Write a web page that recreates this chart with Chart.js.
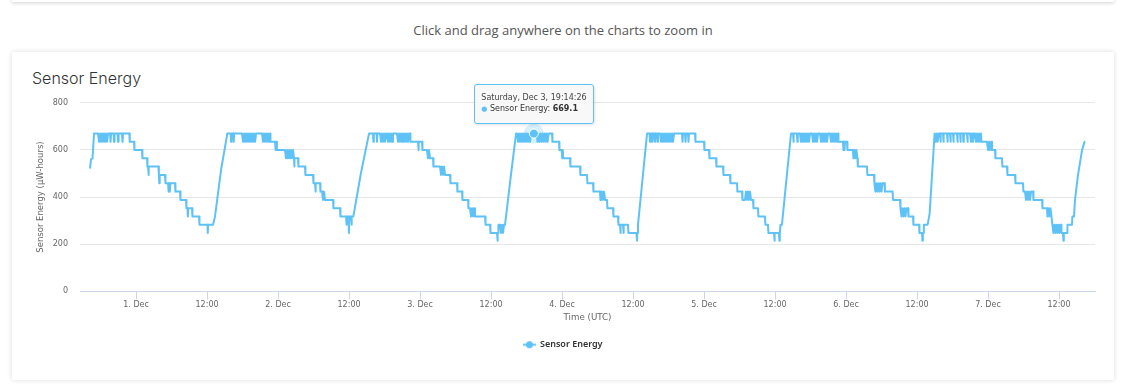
<!DOCTYPE html>
<html lang="en">
<head>
<meta charset="UTF-8" />
<title>Sensor Energy</title>
<script src="https://cdn.jsdelivr.net/npm/chart.js@4.4.1/dist/chart.umd.min.js"></script>
<style>
  html, body { margin: 0; padding: 0; background: #fff; }
  body { width: 1128px; height: 388px; position: relative; overflow: hidden; }
  .topbar { position: absolute; left: 12px; top: -40px; width: 1102px; height: 42px; background: #fff; box-shadow: 0 1px 4px rgba(0,0,0,0.18); }
  .hint { position: absolute; left: 12px; width: 1102px; top: 20px; text-align: center; font: 400 13px/20px "Open Sans", sans-serif; color: #555; }
  .card { position: absolute; left: 12px; top: 52px; width: 1102px; height: 328px; background: #fff; box-shadow: 0 0 5px rgba(0,0,0,0.14); }
  .card h2 { position: absolute; left: 20px; top: 16px; margin: 0; font: 300 16px/20px Inter, sans-serif; color: #333; }
  .card canvas { position: absolute; left: 0; top: 40px; }
  #tip { position: absolute; pointer-events: none; opacity: 0; white-space: nowrap;
         background: rgba(247,247,247,0.88); border: 1px solid #5ec2f7; border-radius: 3px;
         padding: 7px 6px 8px; font-family: "DejaVu Sans", sans-serif; color: #333;
         box-shadow: 1px 1px 3px rgba(0,0,0,0.12); }
  #tip .head { font-size: 8px; line-height: 11px; color: #444; }
  #tip .body { font-size: 8px; line-height: 12px; }
  #tip .dot { font-size: 7px; }
</style>
</head>
<body>
<div class="topbar"></div>
<div class="hint">Click and drag anywhere on the charts to zoom in</div>
<div class="card">
  <h2>Sensor Energy</h2>
  <canvas id="energyChart" width="1102" height="288"></canvas>
  <div id="tip"></div>
</div>

<script>
// readings as [hours after 30 Nov 2022 00:00 UTC, µW-hours], one array per charge cycle
const cycle1 = [
  [16.23,524],[16.39,560],[16.65,564],[16.90,669.1],
  [17.58,669.1],[17.75,634],[17.92,669.1],[18.09,634],[18.26,669.1],[18.42,634],[18.59,669.1],[18.76,634],[18.93,669.1],[19.10,634],[19.27,669.1],
  [19.61,669.1],[19.69,634],[19.78,669.1],
  [20.20,669.1],[20.28,634],[20.37,669.1],
  [20.87,669.1],[20.96,634],[21.05,669.1],
  [21.63,669.1],[21.72,634],[21.80,669.1],
  [22.87,669.1],[22.94,634],
  [23.66,634],[23.73,599],
  [25.01,599],[25.08,564],
  [25.86,564],[25.93,529],
  [26.03,529],[26.10,494],[26.17,529],
  [27.79,529],[27.86,494],[27.93,459],[28.00,494],
  [28.90,494],[28.97,459],
  [29.41,459],[29.51,423],[29.61,459],[29.71,423],[29.81,459],
  [30.59,459],[30.66,423],
  [31.44,423],[31.51,388],
  [32.45,388],[32.52,353],
  [32.69,353],[32.76,318],[32.83,353],
  [33.46,353],[33.53,318],
  [34.65,318],[34.72,283],
  [36.08,283],[36.13,248],[36.18,283],
  [37.01,283],[37.35,318],[38.40,520],[39.43,669.1]
];
const cycle2 = [
  [40.00,669.1],[40.07,634],[40.14,669.1],
  [40.44,669.1],[40.51,634],[40.58,669.1],
  [41.92,669.1],[42.09,634],[42.26,669.1],[42.43,634],[42.60,669.1],[42.76,634],[42.93,669.1],[43.10,634],[43.27,669.1],[43.44,634],[43.61,669.1],[43.78,634],[43.95,669.1],[44.12,634],[44.29,669.1],
  [45.30,669.1],[45.46,634],[45.63,669.1],[45.80,634],[45.97,669.1],[46.14,634],[46.31,669.1],[46.48,634],[46.65,669.1],[46.72,634],
  [47.49,634],[47.56,599],[47.63,634],[47.74,634],[47.81,599],
  [49.18,599],[49.35,564],[49.52,599],[49.69,564],[49.86,599],[50.03,564],[50.20,599],[50.37,564],[50.54,599],[50.70,564],[50.75,529],[50.80,564],
  [51.38,564],[51.45,529],
  [52.56,529],[52.63,494],
  [53.92,494],[53.99,459],
  [54.25,459],[54.32,423],[54.40,459],
  [55.10,459],[55.17,423],
  [55.44,423],[55.60,388],[55.77,423],[55.94,388],
  [57.30,388],[57.37,353],
  [58.48,353],[58.55,318],
  [59.49,318],[59.56,283],[59.63,318],
  [59.91,318],[59.98,248],[60.05,318],
  [60.34,318],[60.41,283],[60.48,318],
  [60.73,318],[62.00,500],[63.38,669.1]
];
const cycle3 = [
  [64.05,669.1],[64.12,634],[64.19,669.1],
  [64.65,669.1],[64.72,634],[64.79,669.1],
  [65.24,669.1],[65.41,634],[65.58,669.1],[65.75,634],[65.92,669.1],[66.09,634],[66.26,669.1],
  [66.42,669.1],[66.59,634],[66.76,669.1],[66.93,634],[67.10,669.1],[67.27,634],[67.43,669.1],
  [68.11,669.1],[68.28,634],[68.45,669.1],[68.62,634],[68.79,669.1],[68.96,634],[69.12,669.1],[69.29,634],[69.46,669.1],[69.63,634],[69.80,669.1],[69.97,634],[70.14,669.1],
  [70.31,669.1],[70.38,634],
  [71.66,634],[71.73,599],[71.80,634],
  [72.34,634],[72.41,599],
  [73.18,599],[73.35,564],[73.52,599],[73.69,564],
  [74.20,564],[74.27,529],
  [75.38,529],[75.55,494],[75.72,529],[75.89,494],[76.06,529],[76.23,494],
  [77.07,494],[77.14,459],
  [78.25,459],[78.32,423],
  [79.10,423],[79.17,388],
  [80.11,388],[80.18,353],
  [80.45,353],[80.62,318],[80.79,353],[80.96,318],[81.13,353],[81.29,318],
  [83.00,318],[83.07,283],
  [83.83,283],[83.90,248],
  [85.01,248],[85.08,215],[85.15,248],
  [85.18,248],[85.25,283],
  [85.52,283],[85.69,248],[85.86,283],[86.03,248],[86.20,283],
  [86.37,283],[87.30,480],[88.23,669.1]
];
const cycle4 = [
  [88.40,669.1],[88.57,634],[88.73,669.1],[88.90,634],[89.07,669.1],[89.24,634],[89.41,669.1],[89.58,634],[89.75,669.1],[89.92,634],[90.09,669.1],[90.26,634],[90.43,669.1],[90.60,634],[90.77,669.1],
  [91.2406,669.1],
  [91.69,669.1],[91.86,634],[92.03,669.1],[92.20,634],[92.37,669.1],[92.54,634],[92.71,669.1],[92.88,634],[93.05,669.1],[93.22,634],[93.39,669.1],[93.56,634],[93.73,669.1],
  [94.31,669.1],[94.38,634],
  [95.49,634],[95.56,599],
  [95.95,599],[96.04,564],[96.12,599],[96.20,564],
  [97.35,564],[97.42,529],
  [99.04,529],[99.11,494],
  [100.22,494],[100.29,459],
  [101.24,459],[101.31,423],
  [102.42,423],[102.49,388],
  [102.59,388],[102.76,423],[102.93,388],[103.10,423],[103.27,388],
  [103.60,388],[103.67,353],
  [104.62,353],[104.69,318],
  [105.46,318],[105.53,283],
  [105.80,283],[105.87,248],[105.94,283],
  [106.31,283],[106.38,248],[106.45,283],
  [107.15,283],[107.22,248],
  [108.59,248],[108.66,215],[108.73,248],
  [108.84,283],[109.60,475],[110.37,669.1]
];
const cycle5 = [
  [110.79,669.1],[110.87,634],[110.96,669.1],
  [111.21,669.1],[111.29,634],[111.38,669.1],
  [111.63,669.1],[111.71,634],[111.80,669.1],
  [112.05,669.1],[112.13,634],[112.22,669.1],
  [112.56,669.1],[112.73,634],[112.90,669.1],[113.07,634],[113.24,669.1],[113.41,634],[113.58,669.1],[113.75,634],[113.92,669.1],[114.09,634],[114.25,669.1],[114.42,634],[114.59,669.1],[114.76,634],[114.93,669.1],
  [116.28,669.1],[116.36,634],[116.45,669.1],
  [116.79,669.1],[116.87,634],[116.96,669.1],
  [117.29,669.1],[117.37,634],[117.46,669.1],
  [118.48,669.1],[118.55,634],
  [120.00,634],[120.07,599],
  [120.85,599],[120.92,564],
  [122.03,564],[122.10,529],
  [123.21,529],[123.28,494],
  [124.39,494],[124.46,459],
  [125.57,459],[125.64,423],
  [126.42,423],[126.49,388],
  [126.92,388],[127.09,423],[127.26,388],[127.43,423],[127.60,388],[127.77,423],[127.94,388],
  [128.28,388],[128.35,353],
  [129.12,353],[129.19,318],
  [130.30,318],[130.37,283],
  [130.81,283],[130.88,248],
  [131.83,248],[131.90,215],[131.97,248],
  [132.67,248],[132.74,215],[132.81,248],
  [132.93,283],[133.17,283],[133.95,480],[134.70,669.1]
];
const cycle6 = [
  [135.04,669.1],[135.11,634],[135.18,669.1],
  [135.71,669.1],[135.78,634],[135.85,669.1],
  [136.22,669.1],[136.39,634],[136.56,669.1],[136.73,634],[136.90,669.1],[137.07,634],[137.24,669.1],[137.41,634],[137.58,669.1],[137.75,634],[137.92,669.1],
  [138.25,669.1],[138.42,634],[138.59,669.1],[138.76,634],[138.93,669.1],[139.10,634],[139.27,669.1],
  [139.60,669.1],[139.77,634],[139.94,669.1],[140.11,634],[140.28,669.1],[140.45,634],[140.62,669.1],[140.79,634],[140.96,669.1],
  [141.29,669.1],[141.46,634],[141.63,669.1],[141.80,634],[141.97,669.1],[142.14,634],[142.31,669.1],[142.48,634],[142.65,669.1],[142.72,634],
  [143.49,634],[143.57,599],[143.66,634],[143.74,599],[143.83,634],
  [144.17,634],[144.24,599],
  [145.18,599],[145.25,564],[145.42,599],[145.59,564],[145.76,599],[145.93,564],[146.00,529],
  [147.54,529],[147.61,494],
  [148.73,494],[148.80,459],
  [148.97,423],[149.14,459],[149.31,423],[149.48,459],[149.65,423],[149.82,459],[149.99,423],[150.16,459],
  [150.50,459],[150.57,423],
  [151.87,423],[151.94,388],
  [153.13,388],[153.20,353],
  [153.37,318],[153.54,353],[153.71,318],[153.88,353],[154.05,318],[154.22,353],
  [154.48,353],[154.55,318],
  [155.32,318],[155.39,283],
  [156.34,283],[156.41,248],
  [156.84,248],[156.91,215],[156.98,248],
  [157.08,248],[157.15,283],
  [157.79,283],[158.13,330],[158.55,500],[158.97,669.1]
];
const cycle7 = [
  [159.14,634],[159.31,669.1],[159.48,634],[159.65,669.1],
  [159.89,669.1],[159.96,634],[160.03,669.1],
  [160.39,669.1],[160.46,634],[160.53,669.1],
  [161.07,669.1],[161.14,634],[161.21,669.1],
  [161.58,669.1],[161.65,634],[161.72,669.1],
  [162.08,669.1],[162.15,634],[162.22,669.1],
  [162.76,669.1],[162.83,634],[162.90,669.1],
  [163.27,669.1],[163.34,634],[163.41,669.1],
  [163.77,669.1],[163.84,634],[163.91,669.1],
  [164.45,669.1],[164.52,634],[164.59,669.1],
  [164.96,669.1],[165.13,634],[165.30,669.1],[165.46,634],[165.63,669.1],
  [165.80,669.1],[165.97,634],[166.14,669.1],[166.31,634],[166.48,669.1],[166.65,634],[166.81,669.1],[166.88,634],
  [167.83,634],[168.00,599],[168.17,634],[168.34,599],[168.51,634],[168.67,599],
  [169.18,599],[169.25,564],
  [170.36,564],[170.43,529],
  [171.21,529],[171.28,494],
  [172.56,494],[172.63,459],
  [173.91,459],[173.98,423],
  [174.25,423],[174.42,388],[174.59,423],[174.76,388],[174.93,423],[175.10,388],[175.27,423],
  [175.61,423],[175.68,388],
  [177.13,388],[177.20,353],
  [177.97,353],[178.04,318],
  [178.21,353],[178.38,318],[178.55,353],[178.72,318],
  [178.81,318],[178.88,283],
  [179.05,248],[179.22,283],[179.39,248],[179.56,283],[179.73,248],[179.90,283],[180.07,248],[180.24,283],
  [180.34,283],[180.41,248],
  [180.67,248],[180.74,215],[180.81,248],
  [181.35,248],[181.42,283],
  [182.19,283],[182.26,318],
  [182.53,318],[182.70,388],[183.21,494],[183.89,599],[184.31,634]
];

const hoverHour = 91.2406;   // Saturday, Dec 3, 19:14:26
const axisHours = [14.53, 186.08];
const tickHours = [24, 36, 48, 60, 72, 84, 96, 108, 120, 132, 144, 156, 168, 180];
const tickLabels = ['1. Dec', '12:00', '2. Dec', '12:00', '3. Dec', '12:00', '4. Dec', '12:00',
                    '5. Dec', '12:00', '6. Dec', '12:00', '7. Dec', '12:00'];
const yTicks = [0, 200, 400, 600, 800];

const HOUR = 3600000;
const START = Date.UTC(2022, 10, 30);
const toMs = h => START + h * HOUR;
const lineColor = '#5ec2f7';
const fontFamily = '"DejaVu Sans", sans-serif';

const readings = [...cycle1, ...cycle2, ...cycle3, ...cycle4, ...cycle5, ...cycle6, ...cycle7];
const points = readings.map(([h, v]) => ({ x: toMs(h), y: v }));
const hoverIndex = readings.findIndex(r => r[0] === hoverHour);

const DAYS = ['Sunday', 'Monday', 'Tuesday', 'Wednesday', 'Thursday', 'Friday', 'Saturday'];
const MONTHS = ['Jan', 'Feb', 'Mar', 'Apr', 'May', 'Jun', 'Jul', 'Aug', 'Sep', 'Oct', 'Nov', 'Dec'];
const pad = n => String(n).padStart(2, '0');
function fmtDate(ms) {
  const d = new Date(ms);
  return DAYS[d.getUTCDay()] + ', ' + MONTHS[d.getUTCMonth()] + ' ' + d.getUTCDate() + ', ' +
    pad(d.getUTCHours()) + ':' + pad(d.getUTCMinutes()) + ':' + pad(d.getUTCSeconds());
}

// legend symbol: short line with a dot
const legendSymbol = document.createElement('canvas');
legendSymbol.width = 13; legendSymbol.height = 9;
(function () {
  const c = legendSymbol.getContext('2d');
  c.strokeStyle = lineColor; c.lineWidth = 2;
  c.beginPath(); c.moveTo(0, 4.5); c.lineTo(13, 4.5); c.stroke();
  c.fillStyle = lineColor;
  c.beginPath(); c.arc(6.5, 4.5, 3.5, 0, Math.PI * 2); c.fill();
})();

function externalTip(context) {
  const { chart, tooltip } = context;
  const el = document.getElementById('tip');
  if (tooltip.opacity === 0 || !tooltip.dataPoints || !tooltip.dataPoints.length) { el.style.opacity = 0; return; }
  const dp = tooltip.dataPoints[0];
  el.innerHTML = '<div class="head">' + fmtDate(dp.parsed.x) + '</div>' +
    '<div class="body"><span class="dot" style="color:' + lineColor + '">\u25CF</span> Sensor Energy: <b>' +
    dp.parsed.y.toFixed(1) + '</b></div>';
  el.style.opacity = 1;
  const x = chart.canvas.offsetLeft + tooltip.caretX;
  const y = chart.canvas.offsetTop + tooltip.caretY;
  el.style.left = (x - el.offsetWidth / 2) + 'px';
  el.style.top = (y - el.offsetHeight - 10) + 'px';
}

const haloPlugin = {
  id: 'halo',
  afterDatasetsDraw(chart) {
    const act = chart.getActiveElements();
    if (!act.length) return;
    const { x, y } = act[0].element;
    const c = chart.ctx;
    c.save();
    c.beginPath();
    c.arc(x, y, 10, 0, Math.PI * 2);
    c.arc(x, y, 5, 0, Math.PI * 2, true);
    c.fillStyle = 'rgba(94,194,247,0.25)';
    c.fill();
    c.restore();
  }
};

const ctx = document.getElementById('energyChart').getContext('2d');
const chart = new Chart(ctx, {
  type: 'line',
  data: {
    datasets: [{
      label: 'Sensor Energy',
      data: points,
      borderColor: lineColor,
      backgroundColor: lineColor,
      borderWidth: 2,
      borderJoinStyle: 'round',
      borderCapStyle: 'round',
      pointRadius: 0,
      pointHoverRadius: 4.5,
      pointHoverBackgroundColor: lineColor,
      pointHoverBorderColor: '#ffffff',
      pointHoverBorderWidth: 1,
      tension: 0,
      fill: false
    }]
  },
  options: {
    responsive: false,
    animation: false,
    events: [],
    layout: { padding: { top: 10.7, right: 19, bottom: 20.75, left: 19 } },
    scales: {
      x: {
        type: 'linear',
        min: toMs(axisHours[0]),
        max: toMs(axisHours[1]),
        afterBuildTicks: s => { s.ticks = tickHours.map(h => ({ value: toMs(h) })); },
        afterFit: s => { s.height = 32; },
        ticks: {
          autoSkip: false, maxRotation: 0, padding: 1,
          color: '#666', font: { family: fontFamily, size: 8 },
          callback: (v, i) => tickLabels[i]
        },
        grid: { drawOnChartArea: false, drawTicks: true, tickLength: 8, color: '#ccd6eb' },
        border: { color: '#ccd6eb', width: 1 },
        title: { display: true, text: 'Time (UTC)', color: '#666', font: { family: fontFamily, size: 8.7 }, padding: 0 }
      },
      y: {
        min: yTicks[0],
        max: yTicks[yTicks.length - 1],
        afterBuildTicks: s => { s.ticks = yTicks.map(v => ({ value: v })); },
        afterFit: s => { s.width = 49; },
        ticks: { color: '#666', font: { family: fontFamily, size: 8 }, padding: 2 },
        grid: {
          color: c => (c.tick && c.tick.value === 0) ? 'rgba(0,0,0,0)' : '#e6e6e6',
          drawTicks: true, tickLength: 10, tickColor: 'rgba(0,0,0,0)'
        },
        border: { display: false },
        title: { display: true, text: 'Sensor Energy (µW-hours)', color: '#666', font: { family: fontFamily, size: 8.5 }, padding: { top: 5, bottom: 0 } }
      }
    },
    plugins: {
      legend: {
        position: 'bottom',
        labels: {
          usePointStyle: true,
          pointStyleWidth: 12,
          padding: 16.85,
          color: '#333',
          font: { family: '"Noto Sans", sans-serif', size: 9, weight: '600' },
          generateLabels: () => [{
            text: 'Sensor Energy', pointStyle: legendSymbol, fillStyle: lineColor,
            strokeStyle: lineColor, lineWidth: 0, hidden: false, datasetIndex: 0, fontColor: '#333'
          }]
        }
      },
      tooltip: { enabled: false, external: externalTip }
    }
  },
  plugins: [haloPlugin]
});

const active = [{ datasetIndex: 0, index: hoverIndex }];
chart.setActiveElements(active);
chart.tooltip.setActiveElements(active, { x: 0, y: 0 });
chart.update();
</script>
</body>
</html>
